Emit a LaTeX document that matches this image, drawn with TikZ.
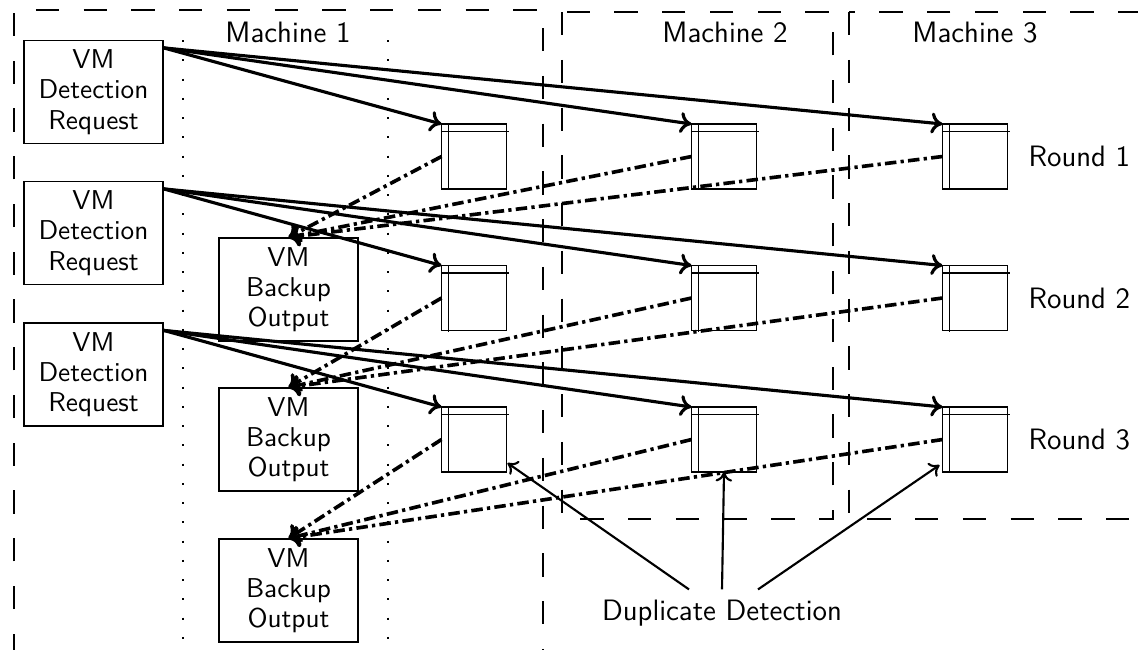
\documentclass[tikz,border=0pt]{standalone}
\usetikzlibrary{calc,arrows.meta}
\begin{document}
\begin{tikzpicture}[x=0.4pt,y=-0.4pt,
  box/.style={draw,line width=0.5pt,minimum width=55.6pt,minimum height=41.2pt,inner sep=0pt,align=center,font=\sffamily\fontsize{10.9}{12.1}\selectfont},
  sq/.style={draw,line width=0.5pt,minimum width=26pt,minimum height=26pt,inner sep=0pt,outer sep=0pt},
  lab/.style={font=\sffamily\fontsize{11.8}{14}\selectfont,inner sep=0pt},
  req/.style={-{Computer Modern Rightarrow[length=4.6pt,width=8.4pt]},line width=1.25pt},
  back/.style={-{Computer Modern Rightarrow[length=4.6pt,width=8.4pt]},line width=1.45pt,dash pattern=on 4.6pt off 1.7pt on 1.3pt off 1.7pt},
  dup/.style={-{Computer Modern Rightarrow[length=3.8pt,width=6.6pt]},line width=0.85pt},
  region/.style={line width=0.5pt,dash pattern=on 9.3pt off 9.8pt},
  mdot/.style={line width=0.8pt,dash pattern=on 0.8pt off 6.9pt}]
\useasboundingbox (0,0) rectangle (1138,649);
\begin{scope}
\clip (0,0) rectangle (1138,649);
% machine regions
\draw[region] (14,800) -- (14,10) -- (543,10) -- (543,800);
\draw[region] (562,12) rectangle (833,519);
\draw[region] (849,12) rectangle (1300,519);
\draw[mdot] (183,40) -- (183,660);
\draw[mdot] (388,40) -- (388,660);
\end{scope}
% labels
\node[lab] (m1) at (288,32.5) {Machine 1};
\node[lab] (m2) at (725,32.5) {Machine 2};
\node[lab] (m3) at (975,32.5) {Machine 3};
% request boxes
\node[box] (r1) at (93.5,92) {VM\\Detection\\Request};
\node[box] (r2) at (93.5,233) {VM\\Detection\\Request};
\node[box] (r3) at (93.5,374.5) {VM\\Detection\\Request};
% backup boxes
\node[box] (b1) at (288.5,289.5) {VM\\Backup\\Output};
\node[box] (b2) at (288.5,439.5) {VM\\Backup\\Output};
\node[box] (b3) at (288.5,590.5) {VM\\Backup\\Output};
% squares
\foreach \i/\y in {1/156.5,2/298,3/439.5}{
  \foreach \c/\x in {1/474,2/724,3/975}{
    \node[sq] (s\i\c) at (\x,\y) {};
    \draw[line width=0.5pt] ($(s\i\c.north west)+(0,7.5)$) -- ($(s\i\c.north east)+(2,7.5)$);
    \draw[line width=0.5pt] ($(s\i\c.north west)+(7,0)$) -- ($(s\i\c.south west)+(7,1)$);
  }
}
% round labels
\node[lab,anchor=west] (rd1) at (1028,156.5) {Round 1};
\node[lab,anchor=west] (rd2) at (1028,298) {Round 2};
\node[lab,anchor=west] (rd3) at (1028,439.5) {Round 3};
% request arrows
\foreach \r/\i in {r1/1,r2/2,r3/3}{
  \foreach \c in {1,2,3}{
    \draw[req] ($(\r.north east)+(0,8)$) -- (s\i\c.north west);
  }
}
% backup arrows
\foreach \i/\b in {1/b1,2/b2,3/b3}{
  \foreach \c in {1,2,3}{
    \draw[back] (s\i\c.west) -- (\b.north);
  }
}
% duplicate detection
\node[lab,inner ysep=4pt] (dd) at (722,613) {Duplicate Detection};
\draw[dup] ($(dd.north)+(-33,0)$) -- ($(s31.south east)+(1,-9)$);
\draw[dup] (dd.north) -- (s32.south);
\draw[dup] ($(dd.north)+(36,0)$) -- ($(s33.south west)+(-3,-7)$);
\end{tikzpicture}
\end{document}
